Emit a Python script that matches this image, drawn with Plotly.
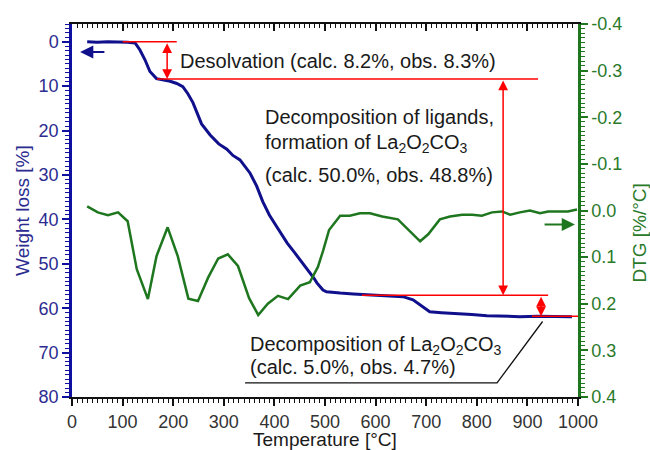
import plotly.graph_objects as go

# ---------------- data ----------------
temp_w = [30, 50, 70, 90, 100, 110, 125, 134, 144, 154, 167, 180, 194, 207, 219, 229, 239,
          256, 273, 290, 306, 318, 332, 352, 365, 377, 390, 405, 425, 440, 451, 462, 470,
          478, 484, 490, 496, 503, 515, 530, 556, 600, 630, 654, 674, 690, 707, 730, 753,
          790, 820, 850, 885, 920, 950, 988]
weight_loss = [0.0, 0.1, 0.0, 0.1, 0.0, 0.1, 0.3, 1.8, 4.0, 6.7, 8.3, 8.6, 8.9, 9.4, 10.1, 11.7, 13.7,
               18.5, 21.0, 23.0, 24.2, 25.6, 26.6, 29.6, 32.5, 36.0, 39.0, 41.7, 45.3, 47.5, 49.1, 50.6, 52.0,
               53.2, 54.3, 55.2, 55.9, 56.3, 56.5, 56.6, 56.8, 57.0, 57.2, 57.4, 58.1, 59.5, 60.8, 61.0, 61.1,
               61.4, 61.7, 61.8, 61.9, 61.8, 61.9, 61.9]

temp_dtg = [30, 51, 71, 91, 110, 128, 150, 167, 189, 209, 230, 249, 269, 289, 308, 328, 350, 368,
            387, 407, 427, 451, 470, 486, 496, 508, 530, 549, 569, 589, 613, 644, 688, 704, 727,
            747, 771, 791, 810, 830, 850, 866, 885, 905, 925, 941, 960, 980, 998]
dtg = [-0.009, 0.004, 0.010, 0.004, 0.023, 0.126, 0.190, 0.098, 0.036, 0.098, 0.189, 0.194, 0.144,
       0.103, 0.094, 0.119, 0.188, 0.224, 0.200, 0.183, 0.190, 0.161, 0.154, 0.121, 0.087, 0.042,
       0.011, 0.011, 0.006, 0.006, 0.013, 0.019, 0.066, 0.051, 0.019, 0.013, 0.009, 0.009, 0.011,
       0.004, 0.002, 0.009, 0.004, 0.000, 0.006, 0.002, 0.002, 0.002, -0.002]

# mass-loss step levels (weight loss %) and temperatures used by the annotations
step_levels = [0.0, 8.4, 57.1, 61.8]
step_line_T = [(100, 207), (168, 921), (573, 941), (909, 1000)]
arrow_T = [188, 852, 927]
leader_T = [930, 840, 342]
leader_W = [63.0, 76.8, 76.8]

x_ticks = list(range(0, 1001, 100))
w_ticks = list(range(0, 81, 10))
dtg_tickvals = [-0.4, -0.3, -0.2, -0.1, 0.0, 0.1, 0.2, 0.3, 0.4]
dtg_ticktext = ["-0.4", "-0.3", "-0.2", "-0.1", "0.0", "0.1", "0.2", "0.3", "0.4"]

labels = {
    "desolv": "Desolvation (calc. 8.2%, obs. 8.3%)",
    "lig1": "Decomposition of ligands,",
    "lig2": "formation of La<sub>2</sub>O<sub>2</sub>CO<sub>3</sub>",
    "lig3": "(calc. 50.0%, obs. 48.8%)",
    "carb1": "Decomposition of La<sub>2</sub>O<sub>2</sub>CO<sub>3</sub>",
    "carb2": "(calc. 5.0%, obs. 4.7%)",
}

# ---------------- style ----------------
FONT = "Liberation Sans, Arial, sans-serif"
BLUE = "#10108C"
BLUE_TXT = "#2B2B90"
GREEN = "#1E761E"
GREEN_TXT = "#2A7A2A"
RED = "#FF0000"
TXT = "#1A1A1A"

fig = go.Figure()

fig.add_trace(go.Scatter(x=temp_dtg, y=dtg, mode="lines", yaxis="y2",
                         line=dict(color=GREEN, width=2.5), showlegend=False, hoverinfo="skip"))
fig.add_trace(go.Scatter(x=temp_w, y=weight_loss, mode="lines",
                         line=dict(color=BLUE, width=3), showlegend=False, hoverinfo="skip"))
# empty trace so the mirrored top axis is drawn
fig.add_trace(go.Scatter(x=[], y=[], xaxis="x2", showlegend=False, hoverinfo="skip"))

# red horizontal step lines
for (t0, t1), lvl in zip(step_line_T, step_levels):
    fig.add_shape(type="line", xref="x", yref="y", x0=t0, x1=t1, y0=lvl, y1=lvl,
                  line=dict(color=RED, width=1.5))

# red double arrows
for i, t in enumerate(arrow_T):
    fig.add_annotation(x=t, y=step_levels[i + 1], ax=t, ay=step_levels[i],
                       xref="x", yref="y", axref="x", ayref="y", text="",
                       showarrow=True, arrowside="end+start", arrowhead=2,
                       arrowsize=1.3, arrowwidth=1.5, arrowcolor=RED, standoff=0, startstandoff=0)

# black leader line
fig.add_trace(go.Scatter(x=leader_T, y=leader_W, mode="lines",
                         line=dict(color="#111111", width=1.3), showlegend=False, hoverinfo="skip"))

# axis indicator arrows
fig.add_annotation(x=16, y=2.3, ax=67, ay=2.3, xref="x", yref="y", axref="x", ayref="y",
                   text="", showarrow=True, arrowhead=2, arrowsize=1.2, arrowwidth=2.2,
                   arrowcolor=BLUE, standoff=0)
fig.add_annotation(x=994, y=0.030, ax=931, ay=0.030, xref="x", yref="y2", axref="x", ayref="y2",
                   text="", showarrow=True, arrowhead=2, arrowsize=1.2, arrowwidth=2.2,
                   arrowcolor=GREEN, standoff=0)

# text labels
def txt(x, y, s):
    fig.add_annotation(x=x, y=y, xref="x", yref="y", text=s, showarrow=False,
                       xanchor="left", yanchor="middle",
                       font=dict(family=FONT, size=20, color=TXT))

txt(209, 4.4, labels["desolv"])
txt(377, 16.9, labels["lig1"])
txt(377, 23.0, labels["lig2"])
txt(377, 30.0, labels["lig3"])
txt(348, 68.3, labels["carb1"])
txt(348, 73.3, labels["carb2"])

# axis titles
fig.add_annotation(x=-0.098, y=0.5, xref="paper", yref="paper", text="Weight loss [%]",
                   textangle=-90, showarrow=False, xanchor="center", yanchor="middle",
                   font=dict(family=FONT, size=19, color=BLUE_TXT))
fig.add_annotation(x=1.122, y=0.44, xref="paper", yref="paper", text="DTG [%/°C]",
                   textangle=-90, showarrow=False, xanchor="center", yanchor="middle",
                   font=dict(family=FONT, size=19, color=GREEN_TXT))
fig.add_annotation(x=0.5, y=-0.113, xref="paper", yref="paper", text="Temperature [°C]",
                   showarrow=False, xanchor="center", yanchor="middle",
                   font=dict(family=FONT, size=19, color=TXT))

fig.update_layout(
    width=650, height=450,
    margin=dict(l=72, r=72, t=24, b=53),
    paper_bgcolor="white", plot_bgcolor="white",
    font=dict(family=FONT),
    xaxis=dict(range=[0, 1000], tickvals=x_ticks, showgrid=False, zeroline=False,
               showline=True, linecolor="#111111", linewidth=2,
               ticks="outside", ticklen=7, tickwidth=2, tickcolor="#111111",
               tickfont=dict(family=FONT, size=18, color="#333333"),
               minor=dict(dtick=10, ticks="outside", ticklen=4, tickwidth=1, tickcolor="#111111")),
    xaxis2=dict(range=[0, 1000], overlaying="x", side="top", anchor="y",
                tickvals=x_ticks, showticklabels=False, showgrid=False, zeroline=False,
                showline=True, linecolor="#111111", linewidth=2,
                ticks="inside", ticklen=7, tickwidth=2, tickcolor="#111111",
                minor=dict(dtick=10, ticks="inside", ticklen=4, tickwidth=1, tickcolor="#111111")),
    yaxis=dict(range=[80, -4], tickvals=w_ticks, showgrid=False, zeroline=False,
               showline=True, linecolor="#1010A0", linewidth=2.5,
               ticks="outside", ticklen=7, tickwidth=2, tickcolor="#1010A0",
               tickfont=dict(family=FONT, size=18, color=BLUE_TXT),
               minor=dict(dtick=1, ticks="outside", ticklen=4, tickwidth=1, tickcolor="#1010A0")),
    yaxis2=dict(range=[0.4, -0.4], overlaying="y", side="right", anchor="x",
                tickvals=dtg_tickvals, ticktext=dtg_ticktext, showgrid=False, zeroline=False,
                showline=True, linecolor=GREEN, linewidth=2.5,
                ticks="outside", ticklen=7, tickwidth=2, tickcolor=GREEN,
                tickfont=dict(family=FONT, size=18, color=GREEN_TXT),
                minor=dict(dtick=0.01, ticks="outside", ticklen=4, tickwidth=1, tickcolor=GREEN)),
)

fig.write_html("out.html", config={"displayModeBar": False},
               post_script="document.body.style.margin='0';")
